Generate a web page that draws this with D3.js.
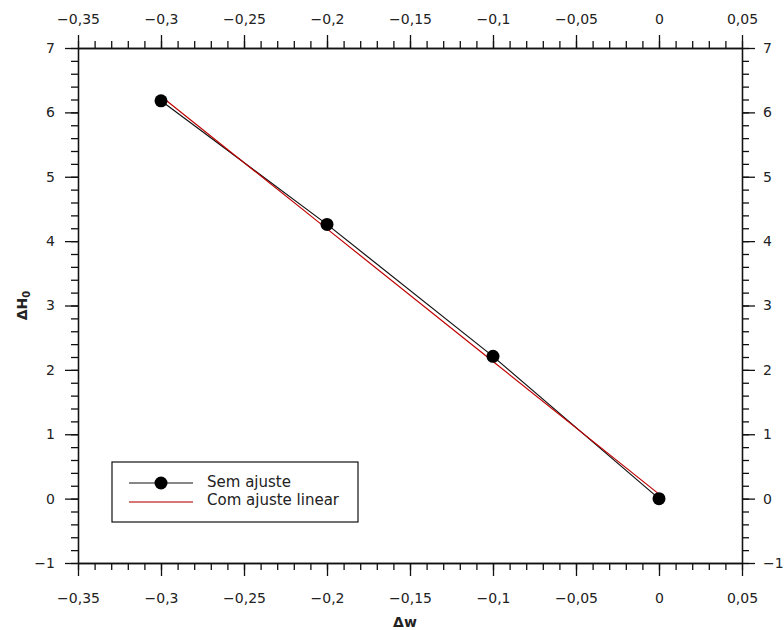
<!DOCTYPE html>
<html>
<head>
<meta charset="utf-8">
<script src="https://cdn.jsdelivr.net/npm/d3@7"></script>
<style>
  html, body { margin: 0; padding: 0; background: #fff; }
  svg text { font-family: "DejaVu Sans", Verdana, sans-serif; fill: #222; }
</style>
</head>
<body>
<svg id="chart" width="784" height="630"></svg>
<script>
// Δw values (x) and ΔH0 values for each series
const deltaW = [-0.3, -0.2, -0.1, 0];
const semAjuste = [6.18, 4.26, 2.21, 0.0];
const comAjusteLinear = [6.25, 4.19, 2.13, 0.07];

const xTicks = [-0.35, -0.3, -0.25, -0.2, -0.15, -0.1, -0.05, 0, 0.05];
const yTicks = [-1, 0, 1, 2, 3, 4, 5, 6, 7];
const seriesNames = ["Sem ajuste", "Com ajuste linear"];

const svg = d3.select("#chart");
const margin = { left: 78, right: 42, top: 48, bottom: 67 };
const W = 784, H = 630;

const x = d3.scaleLinear().domain([-0.35, 0.05]).range([margin.left, W - margin.right]);
const y = d3.scaleLinear().domain([-1, 7]).range([H - margin.bottom, margin.top]);

const fmt = v => {
  if (Math.abs(v) < 1e-9) return "0";
  return (v < 0 ? "\u2212" : "") + String(+Math.abs(v).toFixed(2)).replace(".", ",");
};
const fmtY = v => (v < 0 ? "\u2212" : "") + Math.abs(v);

const xMinor = d3.range(-0.35, 0.0501, 0.01).map(v => +v.toFixed(2));
const yMinor = d3.range(-1, 7.001, 0.2).map(v => +v.toFixed(1));

const fontSize = 14;
const MAJ = 13, MIN = 7;

function styleAxis(g) {
  g.select(".domain").attr("stroke", "#111").attr("stroke-width", 1.3);
  g.selectAll(".tick line").attr("stroke", "#111").attr("stroke-width", 1.3);
  g.selectAll("text").attr("font-size", fontSize).attr("fill", "#222")
    .attr("font-family", "DejaVu Sans, Verdana, sans-serif");
}

// minor ticks (drawn without labels)
svg.append("g").attr("transform", `translate(0,${y(-1)})`)
  .call(d3.axisBottom(x).tickValues(xMinor).tickSize(MIN).tickFormat("").tickSizeOuter(0)).call(styleAxis);
svg.append("g").attr("transform", `translate(0,${y(7)})`)
  .call(d3.axisTop(x).tickValues(xMinor).tickSize(MIN).tickFormat("").tickSizeOuter(0)).call(styleAxis);
svg.append("g").attr("transform", `translate(${x(-0.35)},0)`)
  .call(d3.axisLeft(y).tickValues(yMinor).tickSize(MIN).tickFormat("").tickSizeOuter(0)).call(styleAxis);
svg.append("g").attr("transform", `translate(${x(0.05)},0)`)
  .call(d3.axisRight(y).tickValues(yMinor).tickSize(MIN).tickFormat("").tickSizeOuter(0)).call(styleAxis);

// major ticks with labels
svg.append("g").attr("transform", `translate(0,${y(-1)})`)
  .call(d3.axisBottom(x).tickValues(xTicks).tickSize(MAJ).tickPadding(17).tickFormat(fmt).tickSizeOuter(0)).call(styleAxis);
svg.append("g").attr("transform", `translate(0,${y(7)})`)
  .call(d3.axisTop(x).tickValues(xTicks).tickSize(MAJ).tickPadding(11).tickFormat(fmt).tickSizeOuter(0)).call(styleAxis);
svg.append("g").attr("transform", `translate(${x(-0.35)},0)`)
  .call(d3.axisLeft(y).tickValues(yTicks).tickSize(MAJ).tickPadding(10).tickFormat(fmtY).tickSizeOuter(0)).call(styleAxis);
svg.append("g").attr("transform", `translate(${x(0.05)},0)`)
  .call(d3.axisRight(y).tickValues(yTicks).tickSize(MAJ).tickPadding(8).tickFormat(fmtY).tickSizeOuter(0)).call(styleAxis);

// axis titles
svg.append("text").attr("x", 405).attr("y", 627)
  .attr("text-anchor", "middle").attr("font-size", 14).attr("font-weight", "bold").text("\u0394w");
const yt = svg.append("text").attr("transform", `translate(27,${(y(-1) + y(7)) / 2}) rotate(-90)`)
  .attr("text-anchor", "middle").attr("font-size", 14).attr("font-weight", "bold");
yt.append("tspan").text("\u0394H");
yt.append("tspan").attr("font-size", 10).attr("dy", 3).text("0");

// series
const pts = (vals) => deltaW.map((w, i) => [w, vals[i]]);
const line = d3.line().x(d => x(d[0])).y(d => y(d[1]));

svg.append("path").datum(pts(semAjuste)).attr("d", line)
  .attr("fill", "none").attr("stroke", "#111").attr("stroke-width", 1.2);
svg.append("path").datum(pts(comAjusteLinear)).attr("d", line)
  .attr("fill", "none").attr("stroke", "#c00000").attr("stroke-width", 1.2);
svg.selectAll("circle.pt").data(pts(semAjuste)).join("circle").attr("class", "pt")
  .attr("cx", d => x(d[0])).attr("cy", d => y(d[1])).attr("r", 6.5).attr("fill", "#000");

// legend
const lg = svg.append("g").attr("transform", "translate(112,462)");
lg.append("rect").attr("width", 246).attr("height", 60).attr("fill", "#fff")
  .attr("stroke", "#111").attr("stroke-width", 1.2);
lg.append("line").attr("x1", 17).attr("x2", 81).attr("y1", 21).attr("y2", 21).attr("stroke", "#111").attr("stroke-width", 1.2);
lg.append("circle").attr("cx", 49).attr("cy", 21).attr("r", 6.5).attr("fill", "#000");
lg.append("line").attr("x1", 17).attr("x2", 81).attr("y1", 40).attr("y2", 40).attr("stroke", "#c84848").attr("stroke-width", 1.5);
lg.selectAll("text.lab").data(seriesNames).join("text").attr("class", "lab")
  .attr("x", 95).attr("y", (d, i) => 25 + i * 18)
  .attr("font-size", 15).text(d => d);
</script>
</body>
</html>
